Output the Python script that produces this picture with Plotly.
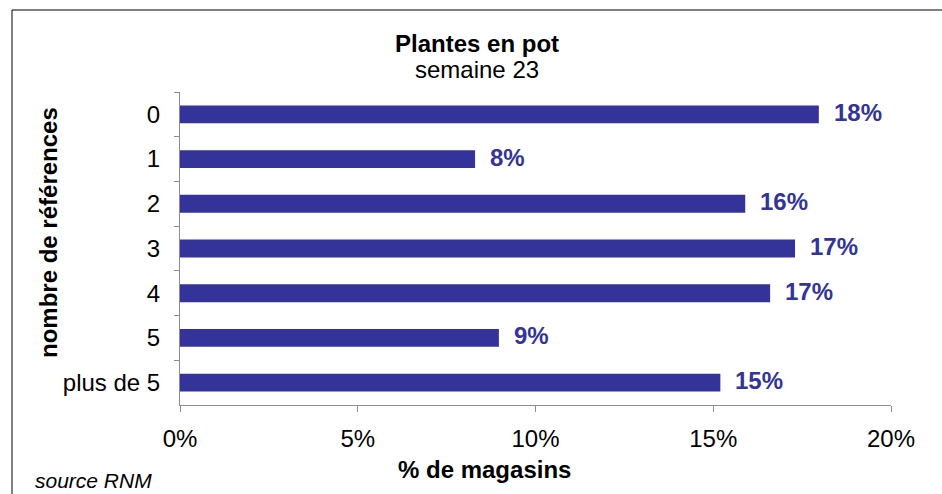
import plotly.graph_objects as go

# Data
categories = ["0", "1", "2", "3", "4", "5", "plus de 5"]
share_of_stores = [0.1797, 0.083, 0.159, 0.173, 0.166, 0.0897, 0.152]
x_ticks = [0, 0.05, 0.10, 0.15, 0.20]
x_tick_labels = ["0%", "5%", "10%", "15%", "20%"]

BAR_COLOR = "#333399"
FONT = "Liberation Sans, Arial, sans-serif"

W, H = 942, 494
L, R, T, B = 180, 51, 92, 89
plot_w = W - L - R
plot_h = H - T - B


def px_x(x):
    return (x - L) / plot_w


def px_y(y):
    return (H - B - y) / plot_h


fig = go.Figure()
fig.add_trace(go.Bar(
    y=categories,
    x=share_of_stores,
    orientation="h",
    marker=dict(color=BAR_COLOR, line=dict(width=0)),
    width=0.4,
    hoverinfo="skip",
))

# value labels beside each bar
annotations = []
for cat, v in zip(categories, share_of_stores):
    annotations.append(dict(
        x=v, y=cat, xref="x", yref="y",
        text=f"<b>{round(v * 100):.0f}%</b>",
        showarrow=False, xanchor="left", yanchor="middle", xshift=13, yshift=2,
        font=dict(family=FONT, size=24, color=BAR_COLOR),
    ))

annotations += [
    dict(x=px_x(477), y=px_y(43), xref="paper", yref="paper",
         text="<b>Plantes en pot</b>", showarrow=False,
         xanchor="center", yanchor="middle",
         font=dict(family=FONT, size=24, color="#000000")),
    dict(x=px_x(477), y=px_y(69), xref="paper", yref="paper",
         text="semaine 23", showarrow=False,
         xanchor="center", yanchor="middle",
         font=dict(family=FONT, size=24, color="#000000")),
    dict(x=px_x(48), y=px_y(233), xref="paper", yref="paper",
         text="<b>nombre de références</b>", showarrow=False, textangle=-90,
         xanchor="center", yanchor="middle",
         font=dict(family=FONT, size=24, color="#000000")),
    dict(x=px_x(484), y=px_y(469), xref="paper", yref="paper",
         text="<b>% de magasins</b>", showarrow=False,
         xanchor="center", yanchor="middle",
         font=dict(family=FONT, size=24, color="#000000")),
    dict(x=px_x(33), y=px_y(480), xref="paper", yref="paper",
         text="<i>source RNM</i>", showarrow=False,
         xanchor="left", yanchor="middle",
         font=dict(family=FONT, size=21, color="#000000")),
]

# outer chart frame
shapes = [dict(
    type="rect", xref="paper", yref="paper",
    x0=px_x(12), x1=px_x(950), y0=px_y(502), y1=px_y(10),
    line=dict(color="#000000", width=1), fillcolor="rgba(0,0,0,0)",
    layer="below",
)]

fig.update_layout(
    width=W, height=H,
    margin=dict(l=L, r=R, t=T, b=B, pad=0),
    paper_bgcolor="white", plot_bgcolor="white",
    showlegend=False,
    annotations=annotations,
    shapes=shapes,
    font=dict(family=FONT, size=24, color="#000000"),
    xaxis=dict(
        range=[0, 0.20], tickvals=x_ticks, ticktext=x_tick_labels,
        showgrid=False, zeroline=False,
        showline=True, linecolor="#8c8c8c", linewidth=1,
        ticks="outside", ticklen=6, tickcolor="#8c8c8c",
        ticklabelstandoff=6,
        tickfont=dict(family=FONT, size=24, color="#000000"),
        fixedrange=True,
    ),
    yaxis=dict(
        categoryorder="array", categoryarray=categories,
        autorange="reversed",
        showgrid=False, zeroline=False,
        showline=True, linecolor="#8c8c8c", linewidth=1,
        ticks="outside", ticklen=5, tickcolor="#8c8c8c",
        tickson="boundaries",
        ticklabelstandoff=14,
        tickfont=dict(family=FONT, size=24, color="#000000"),
        fixedrange=True,
    ),
)

fig.write_html("out.html")
